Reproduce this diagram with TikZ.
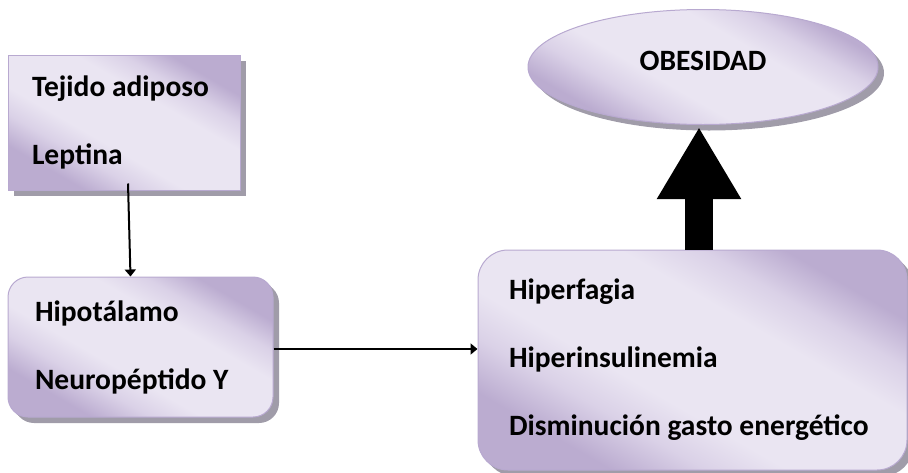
\documentclass[tikz,border=0pt]{standalone}
\usepackage{fontspec}
\setmainfont{Carlito}
\usetikzlibrary{shapes.geometric,shadows,arrows.meta}
\definecolor{lavl}{HTML}{EAE5F2}
\definecolor{lavm}{HTML}{DAD1E7}
\definecolor{lavd}{HTML}{BBACD0}
\definecolor{lavb}{HTML}{B8A9D0}
\definecolor{shad}{HTML}{A09CA9}
\pgfdeclarehorizontalshading{lavshade}{100bp}{color(0bp)=(lavd); color(27bp)=(lavd); color(35bp)=(lavm); color(42bp)=(lavl); color(60bp)=(lavl); color(67bp)=(lavm); color(74bp)=(lavd); color(100bp)=(lavd)}
\tikzset{
  boxbase/.style={draw=lavb, line width=1pt, shading=lavshade, shading angle=60,
    font=\fontsize{29.5}{68}\selectfont\bfseries, align=left, inner ysep=0pt,
    execute at begin node={\spaceskip=0pt\xspaceskip=0pt},
    drop shadow={shadow xshift=6pt, shadow yshift=-6pt, fill=shad, opacity=1}},
  thinshadow/.style={drop shadow={shadow xshift=3pt, shadow yshift=-3pt, fill=shad, opacity=1}},
  conn/.style={line width=2pt, -{Triangle[length=7pt,width=11pt]}},
  bigarrow/.style={line width=28pt, -{Triangle[length=72pt,width=79pt]}}
}
\begin{document}
\begin{tikzpicture}[x=1pt,y=-1pt]
\useasboundingbox (0,0) rectangle (908,472);
\node[boxbase, rectangle, minimum height=135pt, text width=184pt, inner xsep=24pt] (b1) at (124,122.5) {Tejido adiposo\\Leptina};
\node[boxbase, thinshadow, rounded corners=20pt, minimum height=140pt, text width=211pt, inner xsep=27pt] (b2) at (140.5,347) {Hipotálamo\\Neuropéptido Y};
\node[boxbase, thinshadow, rounded corners=30pt, minimum height=220pt, text width=367pt, inner xsep=31pt] (b3) at (692.5,360) {Hiperfagia\\Hiperinsulinemia\\Disminución gasto energético};
\node[boxbase, thinshadow, ellipse, minimum width=350pt, minimum height=115pt, inner sep=0pt, align=center] (ob) at (703,67) {\raisebox{13pt}{OBESIDAD}};
\coordinate (c1) at ([xshift=4pt,yshift=7pt]b1.south);
\draw[conn] (c1) -- ([xshift=-10pt]b2.north);
\draw[conn] ([yshift=-2pt]b2.east) -- ([yshift=-2pt]b2.east -| b3.west);
\coordinate (tip) at ([xshift=-4pt,yshift=-2pt]ob.south);
\draw[bigarrow] (b3.north -| tip) -- (tip);
\end{tikzpicture}
\end{document}
